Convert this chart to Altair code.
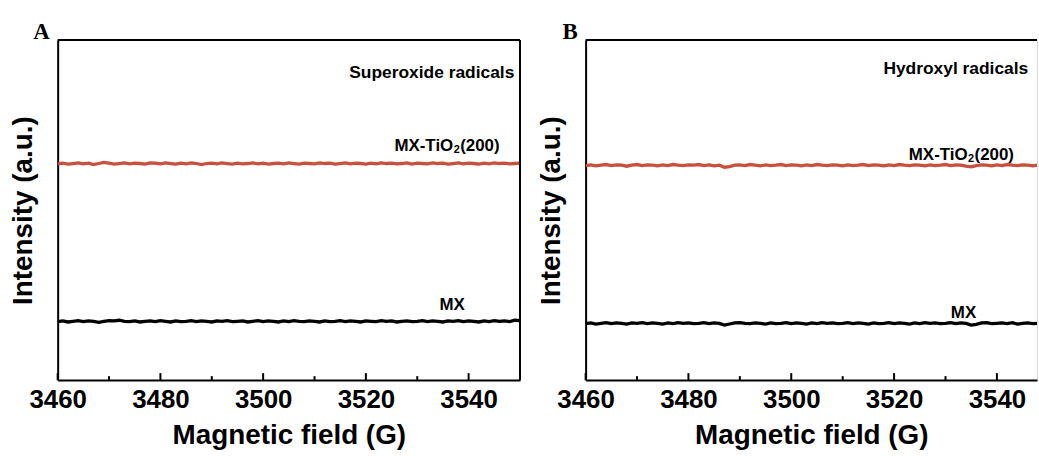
import altair as alt
import pandas as pd

# ---------------- data ----------------
field = list(range(3460, 3551))  # magnetic field (G), 1 G step

red_a = [63.6, 63.8, 63.5, 63.7, 63.9, 63.6, 63.8, 63.4, 63.7, 64.0,
         63.8, 63.5, 63.7, 63.9, 63.6, 63.8, 63.7, 63.5, 63.9, 63.8,
         63.6, 63.9, 63.7, 63.5, 63.8, 63.6, 63.9, 63.7, 63.4, 63.7,
         63.8, 63.6, 63.9, 63.7, 63.5, 63.8, 63.6, 63.7, 63.9, 63.6,
         63.8, 63.5, 63.7, 63.8, 63.6, 63.9, 63.7, 63.5, 63.8, 63.7,
         63.6, 63.9, 63.7, 63.8, 63.5, 63.7, 63.9, 63.6, 63.8, 63.7,
         63.5, 63.8, 63.6, 63.9, 63.7, 63.8, 63.6, 63.7, 63.9, 63.5,
         63.8, 63.7, 63.6, 63.9, 63.7, 63.8, 63.5, 63.7, 63.9, 63.6,
         63.8, 63.7, 63.5, 63.8, 63.6, 63.9, 63.7, 63.8, 63.6, 63.7, 63.8]

black_a = [17.2, 17.4, 17.1, 17.3, 17.5, 17.2, 17.4, 17.3, 17.0, 17.3,
           17.5, 17.4, 17.6, 17.3, 17.2, 17.4, 17.1, 17.3, 17.4, 17.2,
           17.5, 17.3, 17.1, 17.4, 17.2, 17.3, 17.5, 17.2, 17.4, 17.3,
           17.1, 17.4, 17.3, 17.5, 17.2, 17.3, 17.4, 17.1, 17.3, 17.5,
           17.2, 17.4, 17.3, 17.1, 17.4, 17.2, 17.5, 17.3, 17.2, 17.4,
           17.3, 17.1, 17.4, 17.2, 17.3, 17.5, 17.2, 17.4, 17.3, 17.1,
           17.4, 17.3, 17.2, 17.5, 17.3, 17.4, 17.1, 17.3, 17.4, 17.2,
           17.3, 17.5, 17.2, 17.4, 17.3, 17.1, 17.4, 17.3, 17.5, 17.2,
           17.4, 17.3, 17.1, 17.4, 17.2, 17.5, 17.3, 17.4, 17.2, 17.6, 17.5]

red_b = [63.1, 63.3, 63.0, 63.2, 63.4, 63.1, 63.3, 63.2, 62.9, 63.2,
         63.4, 63.1, 63.3, 63.2, 63.0, 63.3, 63.1, 63.4, 63.2, 63.1,
         63.3, 63.2, 63.4, 63.1, 63.3, 63.0, 63.2, 62.6, 62.8, 63.2,
         63.3, 63.1, 63.4, 63.2, 63.0, 63.3, 63.1, 63.2, 63.4, 63.1,
         63.3, 63.2, 63.0, 63.3, 63.1, 63.4, 63.2, 63.1, 63.3, 63.2,
         63.0, 63.3, 63.1, 63.2, 63.4, 63.1, 63.3, 63.2, 63.0, 63.3,
         63.1, 63.4, 63.2, 63.1, 63.3, 63.2, 63.0, 63.3, 63.1, 63.2,
         63.4, 63.1, 63.3, 63.2, 62.9, 62.7, 63.1, 63.3, 63.2, 63.0,
         63.3, 63.1, 63.4, 63.2, 63.1, 63.3, 63.2, 63.0, 63.3, 63.1, 63.2]

black_b = [16.6, 16.8, 16.5, 16.7, 16.9, 16.6, 16.8, 16.7, 16.5, 16.8,
           16.7, 16.9, 16.6, 16.8, 16.7, 16.5, 16.8, 16.6, 16.9, 16.7,
           16.8, 16.6, 16.7, 16.9, 16.6, 16.8, 16.7, 16.2, 16.5, 16.8,
           16.9, 16.7, 16.6, 16.8, 16.7, 16.5, 16.8, 16.6, 16.7, 16.9,
           16.6, 16.8, 16.7, 16.5, 16.8, 16.6, 16.9, 16.7, 16.8, 16.6,
           16.7, 16.9, 16.6, 16.8, 16.7, 16.5, 16.8, 16.6, 16.7, 16.9,
           16.6, 16.8, 16.7, 16.5, 16.8, 16.6, 16.9, 16.7, 16.8, 16.6,
           16.7, 16.9, 16.6, 16.8, 16.7, 16.2, 16.4, 16.8, 16.9, 16.6,
           16.7, 16.8, 16.6, 16.9, 16.5, 16.7, 16.8, 16.6, 16.7, 16.8, 16.7]

series_names = ["MX-TiO2(200)", "MX"]
major_ticks = [3460, 3480, 3500, 3520, 3540]
minor_ticks = [3470, 3490, 3510, 3530, 3550]

FONT = "Liberation Sans"
RED = "#C8503C"
H = 342


def panel(letter, red, black, width, xmax, note, note_pos, tio_pos, mx_pos, right_border):
    df = pd.DataFrame({
        "field": field * 2,
        "intensity": red + black,
        "series": [series_names[0]] * len(field) + [series_names[1]] * len(field),
    })
    xs = alt.Scale(domain=[3460, xmax], nice=False, zero=False)
    ys = alt.Scale(domain=[0, 100], nice=False, zero=False)
    x = alt.X("field:Q", scale=xs, axis=alt.Axis(
        values=major_ticks, format="d", title="Magnetic field (G)", ticks=False, grid=False,
        domainWidth=2, domainColor="black", labelFlush=False,
        labelFont=FONT, labelFontSize=26, labelFontWeight="bold", labelColor="black",
        labelPadding=7, titleFont=FONT, titleFontSize=28, titleFontWeight="bold",
        titleColor="black", titlePadding=9))
    y = alt.Y("intensity:Q", scale=ys, axis=alt.Axis(
        title="Intensity (a.u.)", labels=False, ticks=False, grid=False,
        domainWidth=2, domainColor="black",
        titleFont=FONT, titleFontSize=28, titleFontWeight="bold",
        titleColor="black", titlePadding=20))

    lines = alt.Chart(df).mark_line(strokeWidth=3.3, clip=True).encode(
        x=x, y=y,
        color=alt.Color("series:N", scale=alt.Scale(domain=series_names, range=[RED, "black"]), legend=None),
    )

    maj = pd.DataFrame({"field": [t for t in major_ticks if t <= xmax]})
    mnr = pd.DataFrame({"field": [t for t in minor_ticks if t <= xmax]})
    maj_rule = alt.Chart(maj).mark_rule(color="black", strokeWidth=2).encode(
        x=x, y=alt.value(H), y2=alt.value(H - 7))
    mnr_rule = alt.Chart(mnr).mark_rule(color="black", strokeWidth=2).encode(
        x=x, y=alt.value(H), y2=alt.value(H - 4))

    top = alt.Chart(pd.DataFrame({"k": [0]})).mark_rule(color="black", strokeWidth=2).encode(
        x=alt.value(0), x2=alt.value(width), y=alt.value(0))
    layers = [lines, maj_rule, mnr_rule, top]
    if right_border:
        layers.append(alt.Chart(pd.DataFrame({"k": [0]})).mark_rule(color="black", strokeWidth=2).encode(
            x=alt.value(width), y=alt.value(0), y2=alt.value(H)))

    # annotations
    note_df = pd.DataFrame({"field": [note_pos[0]], "intensity": [note_pos[1]], "t": [note]})
    layers.append(alt.Chart(note_df).mark_text(font=FONT, fontSize=17.5, fontWeight="bold",
                                               align="right", color="black").encode(
        x=x, y=y, text="t:N"))
    tio_df = pd.DataFrame({"field": [tio_pos[0]], "intensity": [tio_pos[1]]})
    layers.append(alt.Chart(tio_df).mark_text(text="MX-TiO", font=FONT, fontSize=17, fontWeight="bold",
                                              align="right", color="black").encode(x=x, y=y))
    layers.append(alt.Chart(tio_df).mark_text(text="2", font=FONT, fontSize=11, fontWeight="bold",
                                              align="left", dx=0.5, dy=4, color="black").encode(x=x, y=y))
    layers.append(alt.Chart(tio_df).mark_text(text="(200)", font=FONT, fontSize=17, fontWeight="bold",
                                              align="left", dx=7, color="black").encode(x=x, y=y))
    mx_df = pd.DataFrame({"field": [mx_pos[0]], "intensity": [mx_pos[1]]})
    layers.append(alt.Chart(mx_df).mark_text(text="MX", font=FONT, fontSize=17, fontWeight="bold",
                                             align="center", color="black").encode(x=x, y=y))
    layers.append(alt.Chart(pd.DataFrame({"l": [letter]})).mark_text(
        font="Liberation Serif", fontSize=23, fontWeight="bold", align="right",
        baseline="alphabetic", color="black").encode(
        text="l:N", x=alt.value(-8), y=alt.value(-1)))

    return alt.layer(*layers).properties(width=width, height=H)


panel_a = panel("A", red_a, black_a, 465, 3550, "Superoxide radicals", (3548.9, 90.2),
                (3537.0, 68.7), (3536.8, 22.2), True)
panel_b = panel("B", red_b, black_b, 454, 3547.8, "Hydroxyl radicals", (3546.1, 91.5),
                (3534.3, 66.1), (3533.5, 19.6), False)

chart = alt.hconcat(panel_a, panel_b, spacing=15).properties(
    padding={"left": 9, "top": 19, "right": 0, "bottom": 0}
).configure_view(strokeWidth=0).configure(background="white")

chart.save("out.html", embed_options={"renderer": "svg", "actions": False})
